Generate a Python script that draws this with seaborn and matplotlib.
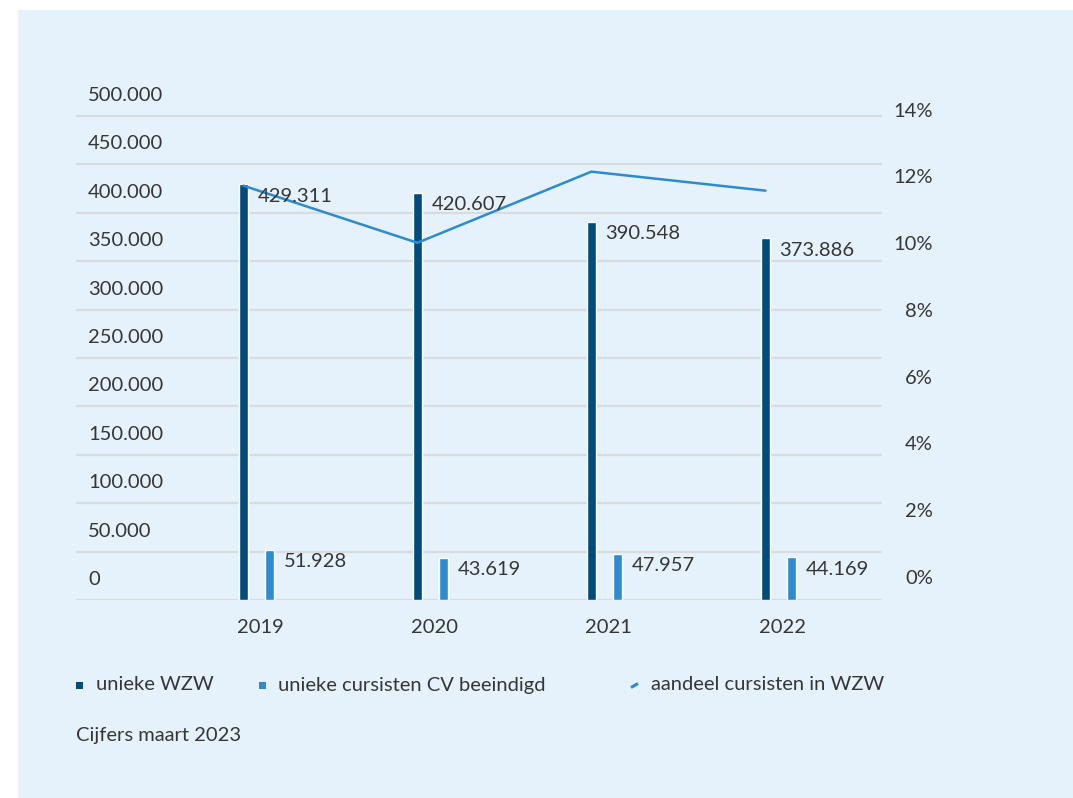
import numpy as np
import pandas as pd
import matplotlib
matplotlib.use("Agg")
import matplotlib.pyplot as plt
import matplotlib.transforms as mtransforms
from matplotlib.lines import Line2D
from matplotlib.patches import Rectangle
import seaborn as sns

# ---- data ----
years = ["2019", "2020", "2021", "2022"]
unieke_wzw = [429311, 420607, 390548, 373886]
unieke_cv = [51928, 43619, 47957, 44169]
aandeel = [11.72, 10.01, 12.14, 11.57]   # percent
left_ticks = [0, 50000, 100000, 150000, 200000, 250000, 300000, 350000, 400000, 450000, 500000]
right_ticks = [0, 2, 4, 6, 8, 10, 12, 14]
series_names = ["unieke WZW", "unieke cursisten CV beeindigd", "aandeel cursisten in WZW"]
footnote = "Cijfers maart 2023"

DARK = "#024B7A"
LIGHT = "#2E8BCD"
LINE = "#2B8AD0"
TXT = "#363636"
PANEL = "#E5F2FB"
GRID = "#D9DCDF"
FS = 14.5

sns.set_theme(style="white")
plt.rcParams["font.family"] = ["Lato", "DejaVu Sans"]
plt.rcParams["font.weight"] = "normal"

W, H, DPI = 1073, 798, 100
fig = plt.figure(figsize=(W / DPI, H / DPI), dpi=DPI, facecolor="white")
# background panel
fig.add_artist(Rectangle((18 / W, 0), 1 - 18 / W, 1 - 10 / H, transform=fig.transFigure,
                         facecolor=PANEL, edgecolor="none", zorder=0))

ax = fig.add_axes([76 / W, (H - 600) / H, 806 / W, 500 / H])
ax.patch.set_alpha(0)

df = pd.DataFrame({
    "jaar": years * 2,
    "waarde": unieke_wzw + unieke_cv,
    "reeks": [series_names[0]] * 4 + [series_names[1]] * 4,
})
sns.barplot(data=df, x="jaar", y="waarde", hue="reeks", palette=[DARK, LIGHT],
            width=0.3, gap=0.68, legend=False, ax=ax, saturation=1)

ax2 = ax.twinx()
ax2.patch.set_alpha(0)
xpos = np.arange(len(years)) - 0.075
sns.lineplot(x=xpos, y=aandeel, color=LINE, linewidth=1.8, ax=ax2)

ax.set_xlim(-1.037, 3.595)
ax.set_ylim(0, 500000 * 500 / 484)
ax2.set_ylim(-(600 - 577) / 33.39, (577 - 100) / 33.39)

for a in (ax, ax2):
    for s in a.spines.values():
        s.set_visible(False)
    a.set_xlabel("")
    a.set_ylabel("")

ax.set_yticks(left_ticks)
ax.set_yticklabels([f"{v:,}".replace(",", ".") for v in left_ticks])
ax.yaxis.grid(True, color=GRID, linewidth=1.6)
ax.set_axisbelow(True)
ax.tick_params(axis="y", length=0, pad=-12 * 0.72, labelsize=FS, labelcolor=TXT)
ax.tick_params(axis="x", length=0, pad=19 * 0.72, labelsize=FS, labelcolor=TXT)
off_up = mtransforms.ScaledTranslation(0, 22 / DPI, fig.dpi_scale_trans)
for lab in ax.get_yticklabels():
    lab.set_horizontalalignment("left")
    lab.set_transform(lab.get_transform() + off_up)
off_right = mtransforms.ScaledTranslation(4 / DPI, 0, fig.dpi_scale_trans)
for lab in ax.get_xticklabels():
    lab.set_transform(lab.get_transform() + off_right)

ax2.set_yticks(right_ticks)
ax2.set_yticklabels([f"{v}%" for v in right_ticks])
ax2.tick_params(axis="y", length=0, pad=51 * 0.72, labelsize=FS, labelcolor=TXT)
for lab in ax2.get_yticklabels():
    lab.set_horizontalalignment("right")

# value labels
for bars, vals in zip(ax.containers, [unieke_wzw, unieke_cv]):
    for rect, v in zip(bars, vals):
        ax2.annotate(f"{v:,}".replace(",", "."),
                     xy=(rect.get_x() + rect.get_width(), rect.get_height()),
                     xycoords=ax.transData, xytext=(10, -12), textcoords="offset pixels",
                     ha="left", va="center", fontsize=FS, color=TXT, zorder=5)

# legend
ly = 1 - 685 / H
for x0, color in [(76, DARK), (259, LIGHT)]:
    fig.add_artist(Rectangle((x0 / W, ly - 3.5 / H), 7 / W, 7 / H, transform=fig.transFigure,
                             facecolor=color, edgecolor="none"))
fig.add_artist(Line2D([631 / W, 638 / W], [ly - 2.5 / H, ly + 1.5 / H], transform=fig.transFigure,
                      color=LINE, linewidth=2.2, solid_capstyle="butt"))
for x0, name in [(96, series_names[0]), (278, series_names[1]), (651, series_names[2])]:
    fig.text(x0 / W, ly, name, ha="left", va="center", fontsize=FS, color=TXT)

fig.text(76 / W, 1 - 736 / H, footnote, ha="left", va="center", fontsize=FS, color=TXT)

fig.savefig("out.png", dpi=DPI, facecolor="white")
